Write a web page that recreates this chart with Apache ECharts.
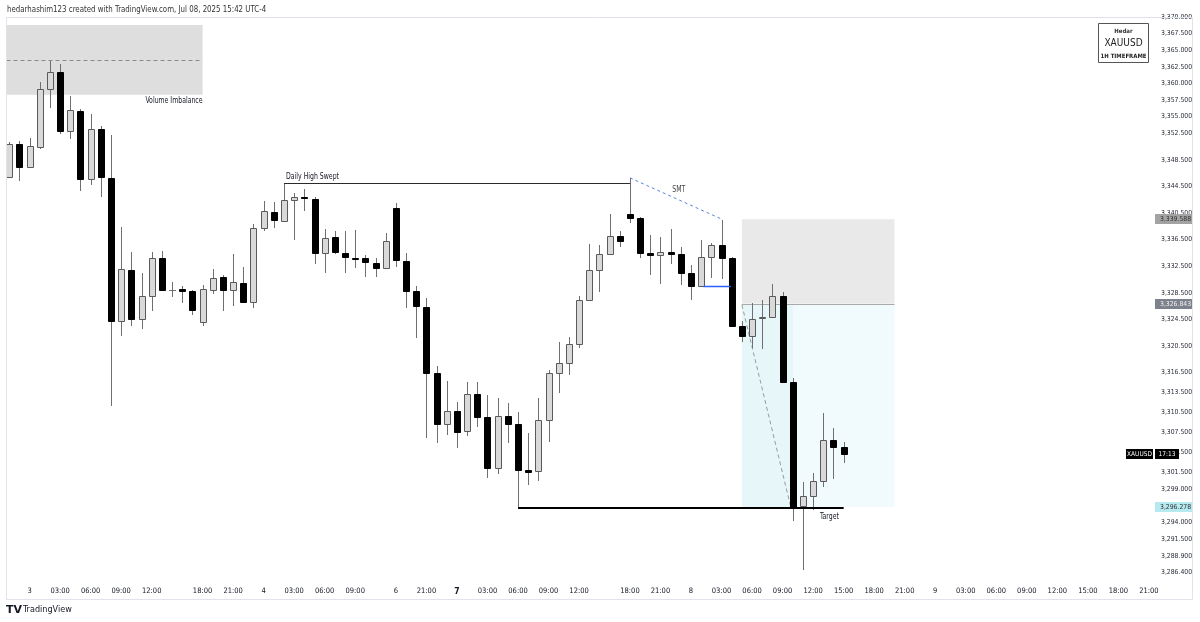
<!DOCTYPE html>
<html><head><meta charset="utf-8">
<script src="https://cdn.jsdelivr.net/npm/echarts@6/dist/echarts.min.js"></script>
<style>html,body{margin:0;padding:0;background:#fff}#c{width:1200px;height:622px}</style>
</head><body><div id="c"></div>
<script>
// ---- time slots (hourly, TradingView skips closed hours) ----
const sessions = [
  ['07-02', 22, 23], ['07-03', 0, 16], ['07-03', 18, 23], ['07-04', 0, 12],
  ['07-06', 18, 23], ['07-07', 0, 16], ['07-07', 18, 23], ['07-08', 0, 23], ['07-09', 0, 21]
];
const times = [];
sessions.forEach(([d, a, b]) => { for (let h = a; h <= b; h++) times.push(d + ' ' + String(h).padStart(2, '0') + ':00'); });

// ---- OHLC (XAUUSD 1H) ----
const opens = [3345.9,3350.9,3347.4,3350.4,3359.2,3361.7,3352.9,3355.9,3345.6,3353.2,
  3345.8,3324.3,3331.9,3324.6,3328.0,3333.7,3328.95,3329.1,3328.8,3324.1,
  3328.9,3330.9,3328.9,3330.0,3327.1,3338.3,3340.7,3339.3,3342.5,3342.9,
  3342.6,3334.5,3336.9,3334.5,3333.8,3333.7,3333.0,3332.2,3341.3,3333.3,
  3328.8,3326.4,3316.4,3308.8,3310.7,3307.7,3313.3,3309.8,3302.2,3310.0,
  3308.8,3301.9,3301.7,3309.4,3316.4,3317.9,3320.8,3327.4,3331.9,3334.3,
  3337.1,3340.4,3339.8,3334.5,3334.2,3334.6,3334.3,3331.5,3329.5,3333.9,
  3335.7,3333.7,3323.5,3322.0,3324.7,3324.9,3328.0,3315.1,3296.4,3297.9,
  3300.2,3306.4,3305.3];
const highs = [3351.2,3351.3,3351.8,3360.2,3363.4,3362.9,3358.1,3356.2,3355.4,3353.6,
  3352.3,3338.4,3334.7,3331.5,3334.7,3334.8,3330.1,3329.5,3328.9,3329.7,
  3332.1,3331.2,3334.3,3332.4,3338.9,3342.3,3342.2,3345.0,3343.5,3344.1,
  3342.9,3338.1,3337.8,3337.8,3338.0,3334.2,3333.7,3337.5,3342.0,3334.5,
  3329.5,3327.7,3317.5,3315.2,3312.1,3315.1,3315.1,3313.1,3312.7,3311.9,
  3310.6,3307.4,3312.7,3316.9,3321.1,3321.9,3328.0,3335.9,3335.7,3340.4,
  3337.8,3345.8,3339.9,3337.2,3336.9,3338.1,3335.4,3332.7,3336.5,3336.0,
  3339.5,3333.9,3324.2,3327.0,3327.4,3329.8,3328.6,3315.7,3300.0,3301.4,
  3310.4,3308.2,3306.1];
const lows = [3345.8,3345.3,3347.3,3350.1,3356.3,3352.4,3351.7,3343.8,3344.7,3342.9,
  3311.5,3322.0,3323.5,3323.1,3325.8,3328.9,3327.9,3327.0,3325.2,3323.5,
  3328.3,3325.8,3326.5,3327.0,3326.2,3337.8,3338.3,3339.2,3336.5,3340.8,
  3332.8,3331.5,3334.3,3331.5,3332.2,3330.9,3330.9,3332.2,3332.4,3326.2,
  3321.7,3306.7,3305.9,3307.1,3305.2,3307.0,3308.3,3300.6,3301.2,3305.9,
  3296.1,3299.6,3300.2,3306.1,3313.4,3316.1,3320.2,3327.3,3328.6,3334.2,
  3335.4,3339.0,3333.7,3331.2,3329.8,3332.8,3329.7,3327.4,3329.4,3330.7,
  3330.6,3323.4,3321.1,3320.2,3320.1,3324.8,3314.9,3294.2,3286.8,3295.8,
  3299.3,3300.5,3302.9];
const closes = [3350.9,3347.4,3350.6,3359.2,3361.7,3352.9,3356.0,3345.6,3353.2,3345.9,
  3324.3,3332.1,3324.6,3328.0,3333.7,3328.9,3328.95,3328.8,3325.9,3329.1,
  3330.7,3328.9,3330.1,3327.1,3338.3,3340.8,3339.5,3342.5,3342.9,3342.8,
  3334.5,3336.8,3334.7,3333.9,3333.6,3333.1,3332.2,3336.3,3333.4,3328.8,
  3326.5,3316.4,3308.8,3310.7,3307.6,3313.3,3309.8,3302.2,3310.0,3308.8,
  3301.8,3301.6,3309.4,3316.4,3317.9,3320.8,3327.4,3331.9,3334.3,3337.1,
  3336.3,3339.8,3334.5,3334.2,3334.6,3334.3,3331.5,3329.5,3333.9,3335.7,
  3333.7,3323.5,3322.0,3324.6,3324.9,3328.0,3315.1,3296.3,3297.9,3300.2,
  3306.4,3305.3,3304.3];

// ---- axis tick labels ----
const tickTimes = ['07-03 00:00','07-03 03:00','07-03 06:00','07-03 09:00','07-03 12:00','07-03 18:00','07-03 21:00',
  '07-04 00:00','07-04 03:00','07-04 06:00','07-04 09:00','07-06 18:00','07-06 21:00',
  '07-07 00:00','07-07 03:00','07-07 06:00','07-07 09:00','07-07 12:00','07-07 18:00','07-07 21:00',
  '07-08 00:00','07-08 03:00','07-08 06:00','07-08 09:00','07-08 12:00','07-08 15:00','07-08 18:00','07-08 21:00',
  '07-09 00:00','07-09 03:00','07-09 06:00','07-09 09:00','07-09 12:00','07-09 15:00','07-09 18:00','07-09 21:00'];
const tickLabels = ['3','03:00','06:00','09:00','12:00','18:00','21:00',
  '4','03:00','06:00','09:00','6','21:00',
  '7','03:00','06:00','09:00','12:00','18:00','21:00',
  '8','03:00','06:00','09:00','12:00','15:00','18:00','21:00',
  '9','03:00','06:00','09:00','12:00','15:00','18:00','21:00'];
const boldLabels = ['7'];
const priceTicks = [3370, 3367.5, 3365, 3362.5, 3360, 3357.5, 3355, 3352.5, 3348.5, 3344.5, 3340.5, 3336.5,
  3332.5, 3328.5, 3324.5, 3320.5, 3316.5, 3313.5, 3310.5, 3307.5, 3304.5, 3301.5, 3299, 3294, 3291.5, 3288.9, 3286.4];

// ---- drawings (time index / price) ----
const volumeImbalance = { endIdx: 19, top: 3368.8, bottom: 3358.3, mid: 3363.5, labelPrice: 3357.4 };
const dailyHighSwept = { from: 27, to: 61, price: 3345.0, labelPrice: 3346.0 };
const smt = { from: 61, fromPrice: 3345.8, to: 70, toPrice: 3339.6, labelIdx: 65.8, labelPrice: 3344.0 };
const blueLevel = { from: 68.2, to: 70.9, price: 3329.5 };
const position = { from: 72, to: 87, stop: 3339.588, entry: 3326.843, target: 3296.278, reached: 77 };
const projection = { from: 72, fromPrice: 3326.7, to: 76.8, toPrice: 3296.3 };
const targetLine = { from: 50, to: 82, price: 3296.1, labelIdx: 80.6, labelPrice: 3295.0 };
const lastPrice = 3304.3;

const FONT = "'DejaVu Sans Condensed','Liberation Sans',sans-serif";
const X_MIN = -0.27, X_MAX = 112.5;
const tickIdx = tickTimes.map(t => times.indexOf(t));
const labelOf = {};
tickIdx.forEach((ix, k) => labelOf[ix] = tickLabels[k]);
const fmtPrice = v => v.toLocaleString('en-US', { minimumFractionDigits: 3, maximumFractionDigits: 3 });

const candleData = opens.map((o, i) => [i, o, closes[i], lows[i], highs[i]]);

function renderCandle(params, api) {
  const x = api.value(0), o = api.value(1), c = api.value(2), l = api.value(3), h = api.value(4);
  const po = api.coord([x, o]), pc = api.coord([x, c]), pl = api.coord([x, l]), ph = api.coord([x, h]);
  const cx = Math.round(po[0]);
  const up = c >= o;
  let top = Math.round(Math.min(po[1], pc[1])), bot = Math.round(Math.max(po[1], pc[1]));
  if (bot - top < 1) bot = top + 1;
  const children = [{
    type: 'line', shape: { x1: cx + 0.5, y1: Math.round(ph[1]), x2: cx + 0.5, y2: Math.round(pl[1]) },
    style: { stroke: '#6f6f6f', lineWidth: 1 }
  }];
  if (o === c) {
    children.push({ type: 'line', shape: { x1: cx - 3, y1: top + 0.5, x2: cx + 4, y2: top + 0.5 }, style: { stroke: '#6f6f6f', lineWidth: 1 } });
  } else {
    children.push({
      type: 'rect', shape: { x: cx - 3 + 0.5, y: top + 0.5, width: 6, height: bot - top },
      style: up ? { fill: '#d9d9d9', stroke: '#5a5a5a', lineWidth: 1 } : { fill: '#000', stroke: '#000', lineWidth: 1 }
    });
  }
  return { type: 'group', children };
}

function txt(text, x, y, align, fill, size) {
  return { type: 'text', x, y, scaleX: 0.86, style: { text, x: 0, y: 0, align, verticalAlign: 'middle', fill: fill || '#131722', font: (size || 8) + 'px ' + FONT } };
}

function renderBack(params, api) {
  const P = (x, y) => api.coord([x, y]);
  const ch = [];
  let a = P(X_MIN, volumeImbalance.top), b = P(volumeImbalance.endIdx, volumeImbalance.bottom);
  ch.push({ type: 'rect', shape: { x: a[0], y: a[1], width: b[0] - a[0], height: b[1] - a[1] }, style: { fill: '#dedede' } });
  const m = P(volumeImbalance.endIdx, volumeImbalance.mid);
  ch.push({ type: 'line', shape: { x1: a[0], y1: Math.round(m[1]) + 0.5, x2: m[0], y2: Math.round(m[1]) + 0.5 }, style: { stroke: '#8a8a8a', lineWidth: 1, lineDash: [4, 3] } });
  const s = P(position.from, position.stop), e = P(position.to, position.entry), t = P(position.to, position.target), r = P(position.reached, position.target);
  ch.push({ type: 'rect', shape: { x: s[0], y: s[1], width: e[0] - s[0], height: e[1] - s[1] }, style: { fill: '#e9e9e9' } });
  ch.push({ type: 'rect', shape: { x: s[0], y: e[1], width: t[0] - s[0], height: t[1] - e[1] }, style: { fill: '#f1fafc' } });
  ch.push({ type: 'rect', shape: { x: s[0], y: e[1], width: r[0] - s[0], height: t[1] - e[1] }, style: { fill: '#e6f6f9' } });
  ch.push({ type: 'line', shape: { x1: s[0], y1: Math.round(e[1]) + 0.5, x2: e[0], y2: Math.round(e[1]) + 0.5 }, style: { stroke: '#a9a9a9', lineWidth: 1 } });
  const p1 = P(projection.from, projection.fromPrice), p2 = P(projection.to, projection.toPrice);
  ch.push({ type: 'line', shape: { x1: p1[0], y1: p1[1], x2: p2[0], y2: p2[1] }, style: { stroke: '#9a9a9a', lineWidth: 1, lineDash: [4, 3] } });
  return { type: 'group', children: ch };
}

function renderFront(params, api) {
  const P = (x, y) => api.coord([x, y]);
  const ch = [];
  let v = P(volumeImbalance.endIdx, volumeImbalance.labelPrice);
  ch.push(txt('Volume Imbalance', v[0], v[1], 'right'));
  let a = P(dailyHighSwept.from, dailyHighSwept.price), b = P(dailyHighSwept.to, dailyHighSwept.price);
  const y0 = Math.round(a[1]) + 0.5;
  ch.push({ type: 'line', shape: { x1: a[0], y1: y0, x2: b[0], y2: y0 }, style: { stroke: '#2a2a2a', lineWidth: 1 } });
  let l = P(dailyHighSwept.from + 0.2, dailyHighSwept.labelPrice);
  ch.push(txt('Daily High Swept', l[0], l[1], 'left'));
  a = P(smt.from, smt.fromPrice); b = P(smt.to, smt.toPrice);
  ch.push({ type: 'line', shape: { x1: a[0], y1: a[1], x2: b[0], y2: b[1] }, style: { stroke: '#5b84e0', lineWidth: 1, lineDash: [3, 3] } });
  l = P(smt.labelIdx, smt.labelPrice);
  ch.push(txt('SMT', l[0], l[1], 'center', '#444', 8));
  a = P(blueLevel.from, blueLevel.price); b = P(blueLevel.to, blueLevel.price);
  ch.push({ type: 'line', shape: { x1: a[0], y1: Math.round(a[1]) + 0.5, x2: b[0], y2: Math.round(a[1]) + 0.5 }, style: { stroke: '#2962ff', lineWidth: 1.5 } });
  a = P(targetLine.from, targetLine.price); b = P(targetLine.to, targetLine.price);
  ch.push({ type: 'line', shape: { x1: a[0], y1: Math.round(a[1]), x2: b[0], y2: Math.round(a[1]) }, style: { stroke: '#000', lineWidth: 2 } });
  l = P(targetLine.labelIdx, targetLine.labelPrice);
  ch.push(txt('Target', l[0], l[1] + 1, 'center'));
  return { type: 'group', children: ch };
}

function renderTags(params, api) {
  const right = api.coord([X_MAX, 3300])[0];
  const ch = [];
  const tag = (price, bg, fg) => {
    const y = Math.round(api.coord([0, price])[1]);
    ch.push({ type: 'rect', shape: { x: right + 1, y: y - 5, width: 37, height: 10 }, style: { fill: bg } });
    ch.push({ type: 'text', style: { text: fmtPrice(price), x: right + 6, y: y + 0.5, align: 'left', verticalAlign: 'middle', fill: fg, font: '6.8px ' + FONT } });
  };
  tag(position.stop, '#a3a3a3', '#333');
  tag(position.entry, '#7d818c', '#eeeeee');
  tag(position.target, '#b6eaf1', '#333');
  const y = Math.round(api.coord([0, lastPrice])[1]);
  ch.push({ type: 'rect', shape: { x: right - 28, y: y - 5, width: 27, height: 10 }, style: { fill: '#000' } });
  ch.push({ type: 'text', style: { text: 'XAUUSD', x: right - 14.5, y: y + 0.5, align: 'center', verticalAlign: 'middle', fill: '#fff', font: '6.5px ' + FONT } });
  ch.push({ type: 'rect', shape: { x: right + 1, y: y - 5, width: 24, height: 10 }, style: { fill: '#000' } });
  ch.push({ type: 'text', style: { text: '17:13', x: right + 13, y: y + 0.5, align: 'center', verticalAlign: 'middle', fill: '#fff', font: '6.5px ' + FONT } });
  return { type: 'group', children: ch };
}

const chart = echarts.init(document.getElementById('c'), null, { renderer: 'canvas' });
chart.setOption({
  animation: false,
  backgroundColor: '#ffffff',
  grid: { left: 6.5, width: 1147.5, top: 17, height: 565 },
  xAxis: {
    type: 'value', min: X_MIN, max: X_MAX,
    axisLine: { show: false }, axisTick: { show: false }, splitLine: { show: false },
    axisLabel: {
      customValues: tickIdx, margin: 5, color: '#131722', fontSize: 7.5, fontFamily: FONT,
      formatter: v => { const s = labelOf[Math.round(v)] || ''; return boldLabels.includes(s) ? '{b|' + s + '}' : s; },
      rich: { b: { fontWeight: 'bold', fontSize: 8.5, fontFamily: FONT, color: '#131722' } }
    }
  },
  yAxis: {
    type: 'value', position: 'right', min: 3285, max: 3370,
    axisLine: { show: false }, axisTick: { show: false }, splitLine: { show: false },
    axisLabel: { customValues: priceTicks, margin: 7, color: '#2a2e39', fontSize: 6.8, fontFamily: FONT, formatter: fmtPrice }
  },
  series: [
    { type: 'custom', name: 'back', data: [[0, 3300]], renderItem: renderBack, clip: true, z: 1, silent: true },
    { type: 'custom', name: 'XAUUSD', data: candleData, renderItem: renderCandle, clip: true, z: 2, encode: { x: 0, y: [1, 2, 3, 4] }, silent: true },
    { type: 'custom', name: 'front', data: [[0, 3300]], renderItem: renderFront, clip: true, z: 3, silent: true },
    { type: 'custom', name: 'tags', data: [[0, 3300]], renderItem: renderTags, clip: false, z: 4, silent: true }
  ],
  graphic: [
    { type: 'rect', shape: { x: 6.5, y: 17.5, width: 1186, height: 582 }, style: { fill: null, stroke: '#e0e3eb', lineWidth: 1 }, z: 10 },
    { type: 'text', x: 7, y: 10, scaleX: 0.87, style: { text: 'hedarhashim123 created with TradingView.com, Jul 08, 2025 15:42 UTC-4', font: '9px ' + FONT, fill: '#333', verticalAlign: 'middle' } },
    { type: 'rect', shape: { x: 1098.5, y: 23.5, width: 50, height: 39 }, style: { fill: '#fff', stroke: '#555', lineWidth: 1 }, z: 10 },
    { type: 'text', x: 1123.5, y: 31, style: { text: 'Hedar', font: 'bold 6px ' + FONT, fill: '#333', align: 'center', verticalAlign: 'middle' }, z: 11 },
    { type: 'text', x: 1123.5, y: 43, style: { text: 'XAUUSD', font: '10px ' + FONT, fill: '#222', align: 'center', verticalAlign: 'middle' }, z: 11 },
    { type: 'text', x: 1123.5, y: 56, style: { text: '1H TIMEFRAME', font: 'bold 6px ' + FONT, fill: '#222', align: 'center', verticalAlign: 'middle' }, z: 11 },
    { type: 'text', x: 6, y: 610, style: { text: 'TV', font: '900 11px DejaVu Sans', fill: '#131722', verticalAlign: 'middle' } },
    { type: 'text', x: 23, y: 610, style: { text: 'TradingView', font: '9px ' + FONT, fill: '#131722', verticalAlign: 'middle' } }
  ]
});
</script></body></html>
